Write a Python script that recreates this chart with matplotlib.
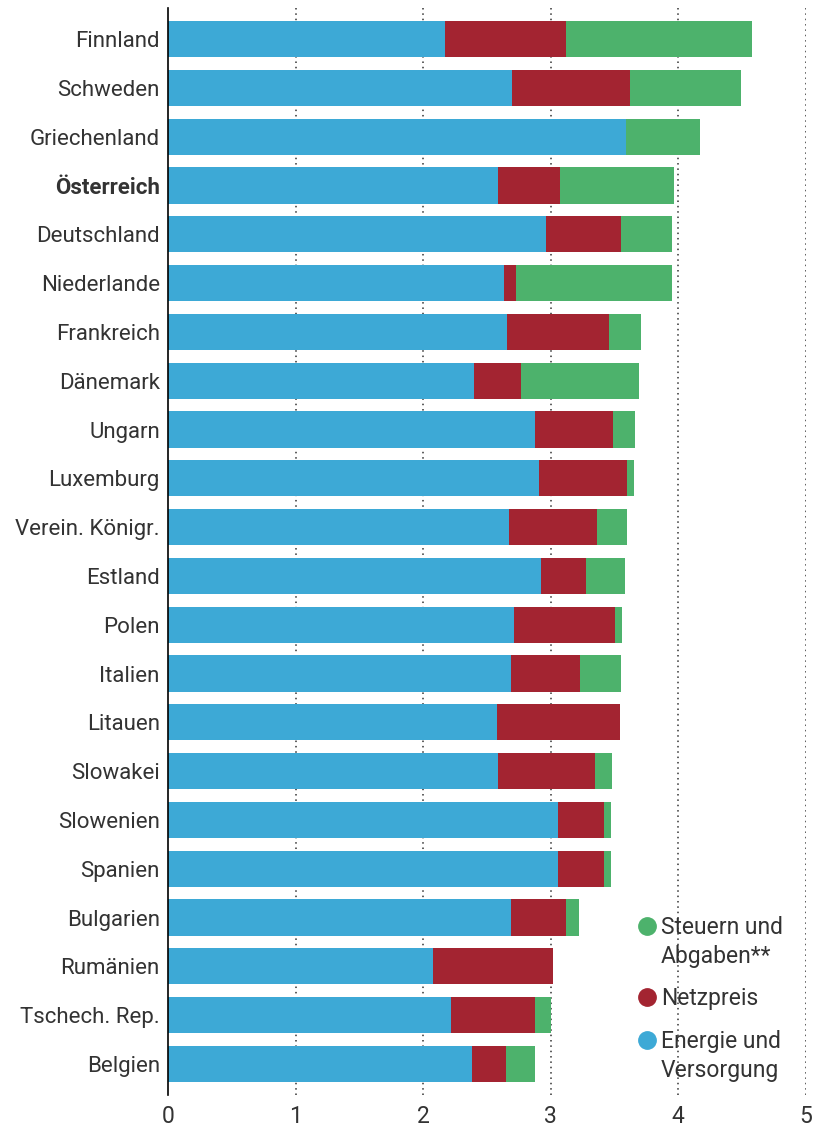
import matplotlib.pyplot as plt
from matplotlib.lines import Line2D

plt.rcParams['font.family'] = ['Roboto', 'DejaVu Sans']

countries = ["Finnland", "Schweden", "Griechenland", "Österreich", "Deutschland",
             "Niederlande", "Frankreich", "Dänemark", "Ungarn", "Luxemburg",
             "Verein. Königr.", "Estland", "Polen", "Italien", "Litauen",
             "Slowakei", "Slowenien", "Spanien", "Bulgarien", "Rumänien",
             "Tschech. Rep.", "Belgien"]
energie = [2.17, 2.70, 3.59, 2.59, 2.96, 2.63, 2.66, 2.40, 2.88, 2.91, 2.67,
           2.92, 2.71, 2.69, 2.58, 2.59, 3.06, 3.06, 2.69, 2.08, 2.22, 2.38]
netz = [0.95, 0.92, 0.00, 0.48, 0.59, 0.10, 0.80, 0.37, 0.61, 0.69, 0.69,
        0.36, 0.79, 0.54, 0.96, 0.76, 0.36, 0.36, 0.43, 0.94, 0.66, 0.27]
steuern = [1.46, 0.87, 0.58, 0.90, 0.40, 1.22, 0.25, 0.92, 0.17, 0.05, 0.24,
           0.30, 0.06, 0.32, 0.00, 0.13, 0.05, 0.05, 0.10, 0.00, 0.12, 0.23]

c_blue = '#3DA9D6'
c_red = '#A32431'
c_green = '#4DB26C'
txt = '#333333'

fig = plt.figure(figsize=(8.24, 11.29), dpi=100)
ax = fig.add_axes([0.204, 0.030, 0.774, 0.963])

y = list(range(len(countries)))
left2 = [a + b for a, b in zip(energie, netz)]
ax.barh(y, energie, height=0.74, color=c_blue, zorder=2)
ax.barh(y, netz, left=energie, height=0.74, color=c_red, zorder=2)
ax.barh(y, steuern, left=left2, height=0.74, color=c_green, zorder=2)

for xv in [1, 2, 3, 4, 5]:
    ax.axvline(xv, color='#333333', linestyle=(0, (1, 2.5)), linewidth=1.1, zorder=1)

ax.set_xlim(0, 5.0)
ax.set_ylim(21.64, -0.64)
ax.set_yticks(y)
ax.set_yticklabels(countries, fontsize=16, color=txt)
for lab in ax.get_yticklabels():
    if lab.get_text() == "Österreich":
        lab.set_fontweight('bold')
ax.set_xticks([0, 1, 2, 3, 4, 5])
ax.set_xticklabels(['0', '1', '2', '3', '4', '5'], fontsize=16.5, color=txt)
ax.tick_params(axis='y', length=0, pad=6)
ax.tick_params(axis='x', length=0, pad=7)
for s in ['top', 'right', 'bottom']:
    ax.spines[s].set_visible(False)
ax.spines['left'].set_color('black')
ax.spines['left'].set_linewidth(1.2)
ax.spines['left'].set_zorder(3)

# legend, drawn by hand so the dot sits on the first line
legend_items = [(c_green, ["Steuern und", "Abgaben**"], 926),
                (c_red, ["Netzpreis"], 997),
                (c_blue, ["Energie und", "Versorgung"], 1040)]
H = 1129.0
for col, lines, ypx in legend_items:
    fig.add_artist(Line2D([647 / 824.0], [1 - ypx / H], marker='o', linestyle='',
                          color=col, markersize=12.5))
    for i, line in enumerate(lines):
        fig.text(661 / 824.0, 1 - (ypx + 8 + 29 * i) / H, line, fontsize=16.5,
                 color=txt, va='baseline', ha='left')

fig.savefig('out.png', dpi=100)
